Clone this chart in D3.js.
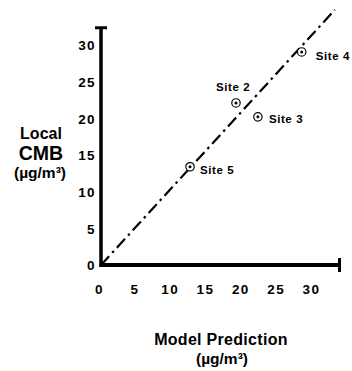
<!DOCTYPE html>
<html>
<head>
<meta charset="utf-8">
<script src="https://cdn.jsdelivr.net/npm/d3@7/dist/d3.min.js"></script>
<style>
  html, body { margin: 0; padding: 0; background: #fff; }
  svg { display: block; font-family: "Liberation Sans", Arial, Helvetica, sans-serif; font-weight: bold; }
</style>
</head>
<body>
<svg id="chart" width="352" height="371"></svg>
<script>
// Local CMB estimates against model predictions, by site (µg/m³)
const sites = ["Site 2", "Site 3", "Site 4", "Site 5"];
const modelPrediction = [19.1, 22.2, 28.4, 12.6];
const localCMB = [22.1, 20.2, 29.05, 13.4];
const tickValues = [0, 5, 10, 15, 20, 25, 30];
// Reference line drawn from the origin to the upper-right corner
const refLineX = [0, 33.1];
const refLineY = [0, 34.8];
// Label offsets relative to each site marker [dx, dy]
const labelOffsets = [[-20, -12], [11, 6], [14, 8], [10, 7]];

const svg = d3.select("#chart");
const x = d3.scaleLinear().domain([0, 30]).range([101, 313]);
const y = d3.scaleLinear().domain([0, 30]).range([265, 45]);
const xEnd = 33.75, yEnd = 32.35;

// Axis lines
svg.append("line")
  .attr("x1", x(0)).attr("x2", x(0))
  .attr("y1", y(0) + 2).attr("y2", y(yEnd))
  .attr("stroke", "#000").attr("stroke-width", 3.5);
svg.append("line")
  .attr("x1", x(0) - 1.5).attr("x2", x(xEnd))
  .attr("y1", y(0)).attr("y2", y(0))
  .attr("stroke", "#000").attr("stroke-width", 4);
// End caps
svg.append("line")
  .attr("x1", x(0) - 6).attr("x2", x(0) + 6)
  .attr("y1", y(yEnd)).attr("y2", y(yEnd))
  .attr("stroke", "#000").attr("stroke-width", 3);
svg.append("line")
  .attr("x1", x(xEnd)).attr("x2", x(xEnd))
  .attr("y1", y(0) - 7).attr("y2", y(0) + 7)
  .attr("stroke", "#000").attr("stroke-width", 3);

// Tick labels through d3 axes (no tick lines or domain)
const yAxis = d3.axisLeft(y).tickValues(tickValues).tickSize(0).tickPadding(6);
const gy = svg.append("g").attr("transform", `translate(${x(0)},0)`).call(yAxis);
const xAxis = d3.axisBottom(x).tickValues(tickValues).tickSize(0).tickPadding(0);
const gx = svg.append("g").attr("transform", `translate(0,${y(0)})`).call(xAxis);
[gy, gx].forEach(g => {
  g.select(".domain").remove();
  g.selectAll("text")
    .attr("font-family", "'Liberation Sans', Arial, sans-serif")
    .attr("font-weight", "bold")
    .attr("font-size", 13.5)
    .attr("letter-spacing", 1.4)
    .attr("fill", "#000");
});
gy.selectAll("text").attr("dy", "0.36em").attr("x", -5);
gx.selectAll("text").attr("dy", null).attr("y", 29).attr("dx", -2);

// Dash-dot reference line
svg.append("path")
  .datum(refLineX.map((v, i) => [v, refLineY[i]]))
  .attr("d", d3.line().x(d => x(d[0])).y(d => y(d[1])))
  .attr("fill", "none").attr("stroke", "#000")
  .attr("stroke-width", 2.2)
  .attr("stroke-dasharray", "12,4.5,2.5,4.5");

// Site markers: ring with a centre dot
const pts = sites.map((s, i) => ({ name: s, mx: modelPrediction[i], my: localCMB[i], off: labelOffsets[i] }));
const g = svg.append("g");
g.selectAll("circle.ring").data(pts).join("circle")
  .attr("class", "ring")
  .attr("cx", d => x(d.mx)).attr("cy", d => y(d.my)).attr("r", 4.2)
  .attr("fill", "#fff").attr("stroke", "#000").attr("stroke-width", 1.2);
g.selectAll("circle.dot").data(pts).join("circle")
  .attr("class", "dot")
  .attr("cx", d => x(d.mx)).attr("cy", d => y(d.my)).attr("r", 1.5)
  .attr("fill", "#000");
g.selectAll("text").data(pts).join("text")
  .attr("x", d => x(d.mx) + d.off[0]).attr("y", d => y(d.my) + d.off[1])
  .attr("font-size", 11.5).attr("letter-spacing", 0.6)
  .text(d => d.name);

// Axis titles
const yTitle = svg.append("g").attr("text-anchor", "middle");
yTitle.append("text").attr("x", 41).attr("y", 139).attr("font-size", 16).text("Local");
yTitle.append("text").attr("x", 41).attr("y", 160).attr("font-size", 19.5).text("CMB");
yTitle.append("text").attr("x", 40).attr("y", 178).attr("font-size", 15.5).text("(\u00B5g/m\u00B3)");

const xTitle = svg.append("g").attr("text-anchor", "middle");
xTitle.append("text").attr("x", 221).attr("y", 345).attr("font-size", 16).attr("letter-spacing", 0.3).text("Model Prediction");
xTitle.append("text").attr("x", 222).attr("y", 364).attr("font-size", 15.5).text("(\u00B5g/m\u00B3)");
</script>
</body>
</html>
